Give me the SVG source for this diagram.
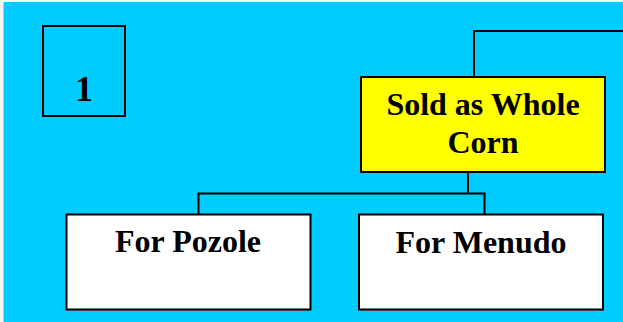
<svg xmlns="http://www.w3.org/2000/svg" width="623" height="322" viewBox="0 0 623 322">
  <style>
    .box { stroke: #000; stroke-width: 2; }
    .lbl { font-family: "Liberation Serif", "Times New Roman", serif; font-weight: bold; font-size: 32px; fill: #000; text-anchor: middle; }
    .conn { fill: none; stroke: #000; stroke-width: 2; }
  </style>
  <rect x="0" y="0" width="623" height="322" fill="#f8f8f0"/>
  <rect x="3.5" y="2" width="619.5" height="320" fill="#00ccff"/>
  <g id="connectors">
    <polyline class="conn" points="474,76 474,31 623,31"/>
    <polyline class="conn" points="468,172 468,193.5"/>
    <polyline class="conn" points="198.5,214 198.5,193.5 484.5,193.5 484.5,214"/>
  </g>
  <g id="label-1">
    <rect class="box" x="43" y="26" width="82" height="90" fill="none"/>
    <text class="lbl" x="84" y="101" style="font-size:36px">1</text>
  </g>
  <g id="node-whole-corn">
    <rect class="box" x="361" y="77" width="244" height="95" fill="#ffff00"/>
    <text class="lbl" x="483" y="115">Sold as Whole</text>
    <text class="lbl" x="483" y="153">Corn</text>
  </g>
  <g id="node-pozole">
    <line x1="67" y1="310.5" x2="311" y2="310.5" stroke="#888" stroke-width="1"/>
    <rect class="box" x="66.5" y="214.5" width="244" height="95" fill="#fff"/>
    <text class="lbl" x="188" y="252">For Pozole</text>
  </g>
  <g id="node-menudo">
    <line x1="359" y1="310.5" x2="603" y2="310.5" stroke="#888" stroke-width="1"/>
    <rect class="box" x="359" y="214.5" width="244" height="95" fill="#fff"/>
    <text class="lbl" x="481" y="252.5">For Menudo</text>
  </g>
</svg>
